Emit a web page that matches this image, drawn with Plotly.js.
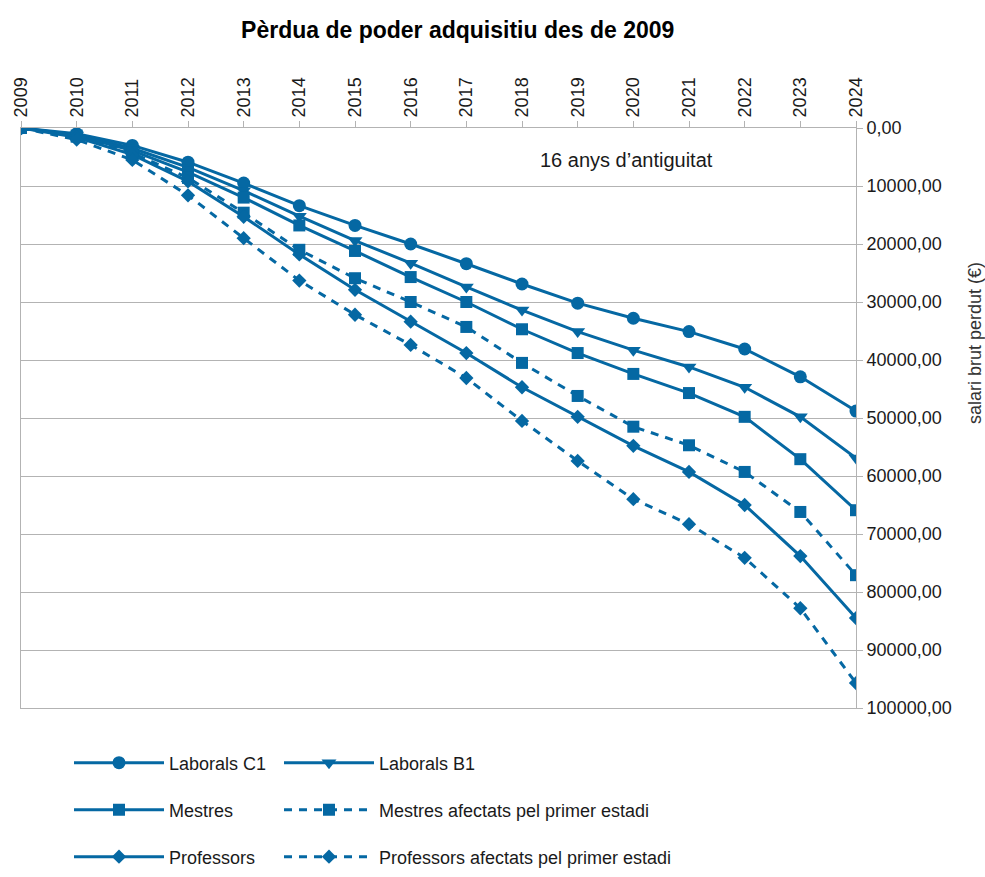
<!DOCTYPE html>
<html>
<head>
<meta charset="utf-8">
<script src="https://cdn.plot.ly/plotly-3.0.1.min.js"></script>
<style>
  html, body { margin: 0; padding: 0; background: #ffffff; }
  #chart { width: 985px; height: 877px; }
</style>
</head>
<body>
<div id="chart"></div>
<script>
// ---- Data ----
const years = [2009, 2010, 2011, 2012, 2013, 2014, 2015, 2016, 2017, 2018, 2019, 2020, 2021, 2022, 2023, 2024];
const laboralsC1 = [0, 1000, 3000, 5900, 9500, 13400, 16800, 20000, 23400, 26900, 30200, 32800, 35100, 38100, 42900, 48800];
const laboralsB1 = [0, 1200, 3500, 6800, 10800, 15200, 19400, 23300, 27400, 31400, 35100, 38300, 41200, 44700, 49800, 56900];
const mestres = [0, 1300, 3900, 7600, 12000, 16800, 21200, 25700, 30000, 34700, 38800, 42400, 45700, 49800, 57100, 65900];
const mestresAfectats = [0, 1500, 4300, 8600, 14600, 21000, 25900, 30000, 34300, 40500, 46200, 51500, 54700, 59300, 66200, 77100];
const professors = [0, 1600, 4600, 9200, 15300, 21800, 27900, 33400, 38800, 44700, 49800, 54800, 59300, 65000, 73800, 84500];
const professorsAfectats = [0, 2000, 5500, 11600, 19000, 26300, 32200, 37400, 43100, 50500, 57400, 64000, 68300, 74100, 82800, 95700];
const seriesNames = ["Laborals C1", "Laborals B1", "Mestres", "Mestres afectats pel primer estadi", "Professors", "Professors afectats pel primer estadi"];
const yTicks = [0, 10000, 20000, 30000, 40000, 50000, 60000, 70000, 80000, 90000, 100000];
const yTickText = yTicks.map(v => v + ",00");
const xTickText = years.map(String);
const yTitle = "salari brut perdut (€)";
const noteText = "16 anys d’antiguitat";

// ---- Styles ----
const COLOR = "#0568a3";
const FONT = "Liberation Sans, Arial, sans-serif";
const W = 985, H = 877;
const PL = 21, PR = 856, PT = 128, PB = 708; // plot area in page pixels

function trace(y, name, symbol, size, dash, legend) {
  return {
    type: "scatter", mode: "lines+markers",
    x: years, y: y, name: name, legend: legend,
    line: { color: COLOR, width: 3, dash: dash },
    marker: { color: COLOR, symbol: symbol, size: size }
  };
}

const traces = [
  trace(laboralsC1, seriesNames[0], "circle", 13, "solid", "legend"),
  trace(laboralsB1, seriesNames[1], "triangle-down", 13, "solid", "legend2"),
  trace(mestres, seriesNames[2], "square", 12, "solid", "legend3"),
  trace(mestresAfectats, seriesNames[3], "square", 12, "8px,7px", "legend4"),
  trace(professors, seriesNames[4], "diamond", 11, "solid", "legend5"),
  trace(professorsAfectats, seriesNames[5], "diamond", 11, "8px,7px", "legend6")
];

// legend position given in page pixels (line start x, row centre y)
function legendCfg(px, py) {
  return {
    orientation: "h",
    x: (px - 6) / W, xanchor: "left", xref: "container",
    y: 1 - py / H, yanchor: "middle", yref: "container",
    itemwidth: 90,
    font: { family: FONT, size: 18, color: "#1a1a1a" },
    bgcolor: "rgba(0,0,0,0)",
    itemclick: false, itemdoubleclick: false
  };
}

const px2paperX = p => (p - PL) / (PR - PL);
const px2paperY = p => 1 - (p - PT) / (PB - PT);

const layout = {
  width: W, height: H,
  paper_bgcolor: "#ffffff", plot_bgcolor: "#ffffff",
  margin: { l: PL, r: W - PR, t: PT, b: H - PB, autoexpand: false },
  font: { family: FONT, size: 18, color: "#1a1a1a" },
  title: {
    text: "<b>Pèrdua de poder adquisitiu des de 2009</b>",
    font: { family: FONT, size: 23, color: "#000000" },
    x: 0.523, xref: "paper", xanchor: "center",
    y: 0.966, yref: "container", yanchor: "middle"
  },
  xaxis: {
    type: "linear", side: "top", range: [2009, 2024],
    tickvals: years, ticktext: xTickText, tickangle: -90,
    tickfont: { family: FONT, size: 18, color: "#1a1a1a" },
    ticks: "outside", ticklen: 6, tickcolor: "#b3b3b3",
    showgrid: false, zeroline: false,
    showline: true, linecolor: "#b3b3b3", linewidth: 1, mirror: true
  },
  yaxis: {
    side: "right", range: [100000, 0],
    tickvals: yTicks, ticktext: yTickText,
    tickfont: { family: FONT, size: 18, color: "#1a1a1a" },
    ticks: "outside", ticklen: 6, tickcolor: "#b3b3b3",
    showgrid: true, gridcolor: "#b3b3b3", gridwidth: 1,
    zeroline: false,
    showline: true, linecolor: "#b3b3b3", linewidth: 1, mirror: true
  },
  showlegend: true,
  legend: legendCfg(75, 763),
  legend2: legendCfg(285, 763),
  legend3: legendCfg(75, 810),
  legend4: legendCfg(285, 810),
  legend5: legendCfg(75, 857),
  legend6: legendCfg(285, 857),
  annotations: [
    {
      text: noteText,
      xref: "paper", yref: "paper",
      x: px2paperX(626), y: px2paperY(160),
      xanchor: "center", yanchor: "middle", showarrow: false,
      font: { family: FONT, size: 20, color: "#1a1a1a" }
    },
    {
      text: yTitle, textangle: -90,
      xref: "paper", yref: "paper",
      x: px2paperX(975), y: px2paperY(343),
      xanchor: "center", yanchor: "middle", showarrow: false,
      font: { family: FONT, size: 18, color: "#333333" }
    }
  ]
};

Plotly.newPlot("chart", traces, layout, { displayModeBar: false, staticPlot: true });
</script>
</body>
</html>
